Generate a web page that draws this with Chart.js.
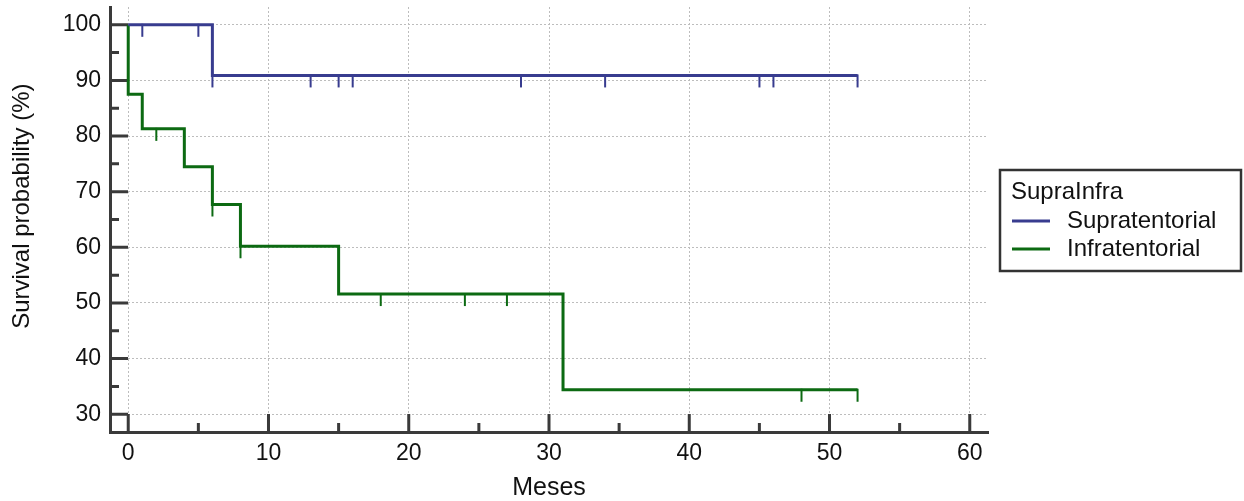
<!DOCTYPE html>
<html>
<head>
<meta charset="utf-8">
<script src="https://cdn.jsdelivr.net/npm/chart.js@4"></script>
<style>
  body { margin: 0; background: #fff; }
  #wrap { width: 1244px; height: 501px; }
</style>
</head>
<body>
<div id="wrap"><canvas id="kmChart" width="1244" height="501"></canvas></div>
<script>
// Kaplan-Meier steps
const supraTimes = [0, 6, 52];
const supraSurv = [100, 90.9, 90.9];
const supraCensored = [1, 5, 6, 13, 15, 16, 28, 34, 45, 46, 52];

const infraTimes = [0, 0, 1, 4, 6, 8, 15, 31, 52];
const infraSurv = [100, 87.5, 81.3, 74.5, 67.7, 60.2, 51.6, 34.4, 34.4];
const infraCensored = [2, 6, 8, 18, 24, 27, 48, 52];

const xTicks = [0, 10, 20, 30, 40, 50, 60];
const xMinor = [5, 15, 25, 35, 45, 55];
const yTicks = [30, 40, 50, 60, 70, 80, 90, 100];
const yMinor = [35, 45, 55, 65, 75, 85, 95];

const blue = "#383c8f";
const green = "#0c6a12";
const axisColor = "#3a3a3a";
const fontFamily = "'Liberation Sans', Arial, sans-serif";

// step value at time t (value after the last drop at or before t)
function survAt(times, surv, t) {
  let v = surv[0];
  for (let i = 0; i < times.length; i++) {
    if (times[i] <= t) v = surv[i];
  }
  return v;
}

function toPoints(times, surv) {
  return times.map((t, i) => ({ x: t, y: surv[i] }));
}

// little vertical tick hanging below the curve, used as point style
function censorMark(color) {
  const c = document.createElement("canvas");
  c.width = 4;
  c.height = 26;
  const g = c.getContext("2d");
  g.fillStyle = color;
  g.fillRect(1, 12, 2, 13);
  return c;
}

// ticks drawn inward from the axes
const innerTicks = {
  id: "innerTicks",
  beforeDatasetsDraw(chart) {
    const { ctx, chartArea: a, scales: { x, y } } = chart;
    ctx.save();
    ctx.strokeStyle = axisColor;
    ctx.lineWidth = 3;
    ctx.beginPath();
    xTicks.forEach(v => { const px = x.getPixelForValue(v); ctx.moveTo(px, a.bottom); ctx.lineTo(px, a.bottom - 18); });
    xMinor.forEach(v => { const px = x.getPixelForValue(v); ctx.moveTo(px, a.bottom); ctx.lineTo(px, a.bottom - 9); });
    yTicks.forEach(v => { const py = y.getPixelForValue(v); ctx.moveTo(a.left, py); ctx.lineTo(a.left + 18, py); });
    yMinor.forEach(v => { const py = y.getPixelForValue(v); ctx.moveTo(a.left, py); ctx.lineTo(a.left + 9, py); });
    ctx.stroke();
    ctx.restore();
  }
};

// boxed legend on the right
const boxLegend = {
  id: "boxLegend",
  afterDraw(chart) {
    const ctx = chart.ctx;
    const left = 1000, top = 170, w = 241, h = 101;
    ctx.save();
    ctx.strokeStyle = "#333";
    ctx.lineWidth = 2.5;
    ctx.strokeRect(left, top, w, h);
    ctx.fillStyle = "#111";
    ctx.font = "24px " + fontFamily;
    ctx.textBaseline = "middle";
    ctx.fillText("SupraInfra", left + 11, top + 22);
    const entries = chart.data.datasets.filter(d => d.type === "line");
    entries.forEach((d, i) => {
      const yy = top + 51 + i * 28;
      ctx.strokeStyle = d.borderColor;
      ctx.lineWidth = 3;
      ctx.beginPath();
      ctx.moveTo(left + 12, yy);
      ctx.lineTo(left + 50, yy);
      ctx.stroke();
      ctx.fillText(d.label, left + 67, yy);
    });
    ctx.restore();
  }
};

const ctx = document.getElementById("kmChart").getContext("2d");
new Chart(ctx, {
  data: {
    datasets: [
      {
        type: "line",
        label: "Supratentorial",
        data: toPoints(supraTimes, supraSurv),
        borderColor: blue,
        borderWidth: 3,
        stepped: "before",
        pointRadius: 0,
        fill: false
      },
      {
        type: "line",
        label: "Infratentorial",
        data: toPoints(infraTimes, infraSurv),
        borderColor: green,
        borderWidth: 3,
        stepped: "before",
        pointRadius: 0,
        fill: false
      },
      {
        type: "scatter",
        label: "supra censored",
        data: supraCensored.map(t => ({ x: t, y: survAt(supraTimes, supraSurv, t) })),
        pointStyle: censorMark(blue),
        pointRadius: 6
      },
      {
        type: "scatter",
        label: "infra censored",
        data: infraCensored.map(t => ({ x: t, y: survAt(infraTimes, infraSurv, t) })),
        pointStyle: censorMark(green),
        pointRadius: 6
      }
    ]
  },
  options: {
    responsive: false,
    animation: false,
    layout: { autoPadding: false, padding: { left: 0, top: 7, right: 256, bottom: 0 } },
    plugins: { legend: { display: false }, tooltip: { enabled: false } },
    scales: {
      x: {
        type: "linear",
        min: -1.3,
        max: 61.3,
        afterBuildTicks: s => { s.ticks = xTicks.map(v => ({ value: v })); },
        afterFit: s => { s.height = 69; s.paddingLeft = 0; s.paddingRight = 0; },
        grid: { color: "#bdbdbd", lineWidth: 1, drawTicks: false },
        border: { display: true, color: axisColor, width: 3, dash: [2, 2] },
        ticks: { color: "#111", padding: 8, font: { family: fontFamily, size: 23 } },
        title: { display: true, text: "Meses", color: "#111", padding: { top: 0, bottom: 0 }, font: { family: fontFamily, size: 25, lineHeight: 1 } }
      },
      y: {
        type: "linear",
        min: 26.8,
        max: 103.2,
        afterBuildTicks: s => { s.ticks = yTicks.map(v => ({ value: v })); },
        afterFit: s => { s.width = 110; s.paddingTop = 0; s.paddingBottom = 0; },
        grid: { color: "#bdbdbd", lineWidth: 1, drawTicks: false },
        border: { display: true, color: axisColor, width: 3, dash: [2, 2] },
        ticks: { color: "#111", padding: 9, font: { family: fontFamily, size: 23 } },
        title: { display: true, text: "    Survival probability (%)", color: "#111", padding: { top: 8, bottom: 0 }, font: { family: fontFamily, size: 24 } }
      }
    }
  },
  plugins: [innerTicks, boxLegend]
});
</script>
</body>
</html>
